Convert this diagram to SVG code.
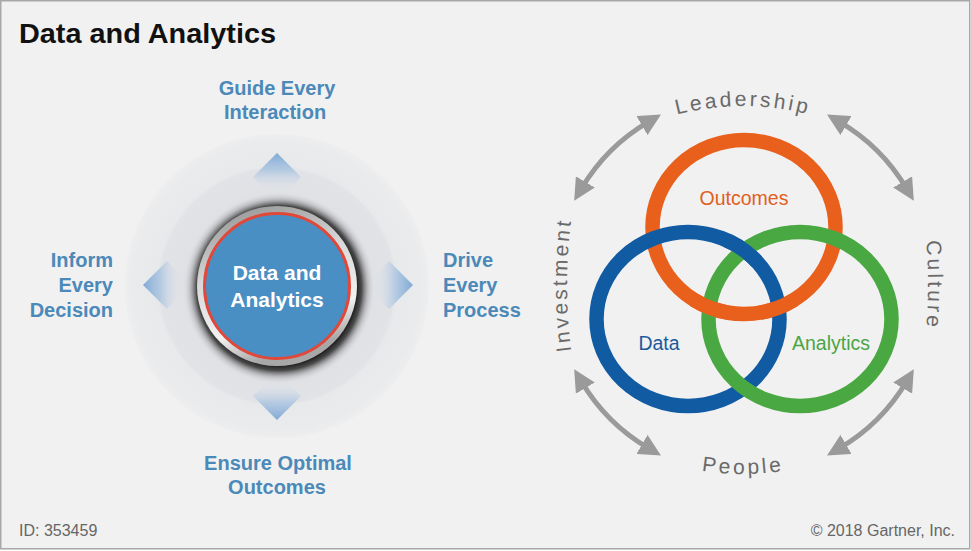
<svg xmlns="http://www.w3.org/2000/svg" width="971" height="551" viewBox="0 0 971 551">
  <style>
    .title { font-family: "Liberation Sans", Arial, sans-serif; font-weight: bold; font-size: 27px; fill: #111; }
    .lbl { font-family: "Liberation Sans", Arial, sans-serif; font-weight: bold; font-size: 20px; fill: #4b89b9; }
    .hub { font-family: "Liberation Sans", Arial, sans-serif; font-weight: bold; font-size: 21px; fill: #ffffff; }
    .ring { font-family: "Liberation Sans", Arial, sans-serif; font-size: 19.5px; }
    .arc { font-family: "Liberation Sans", Arial, sans-serif; font-size: 21px; fill: #6a6a6a; letter-spacing: 3px; }
    .foot { font-family: "Liberation Sans", Arial, sans-serif; font-size: 16px; fill: #666; }
    .arrow { fill: none; stroke: #9a9a9a; stroke-width: 5; marker-start: url(#head); marker-end: url(#head); }
    .band { fill: none; stroke-width: 14.5; }
  </style>
  <defs>
    <marker id="head" markerUnits="userSpaceOnUse" markerWidth="22" markerHeight="22" viewBox="0 0 22 22" refX="8" refY="11" orient="auto-start-reverse">
      <path d="M0,0 L22,11 L0,22 z" fill="#9a9a9a"/>
    </marker>
    <radialGradient id="halo" cx="0.5" cy="0.5" r="0.5">
      <stop offset="0" stop-color="#d8d9dc"/>
      <stop offset="0.6" stop-color="#e0e1e4"/>
      <stop offset="0.77" stop-color="#e2e3e6"/>
      <stop offset="0.79" stop-color="#e8e9eb"/>
      <stop offset="0.95" stop-color="#eaebec"/>
      <stop offset="1" stop-color="#eeeeef"/>
    </radialGradient>
    <radialGradient id="shadow" cx="0.5" cy="0.5" r="0.5">
      <stop offset="0.8" stop-color="#1a1a1a"/>
      <stop offset="0.86" stop-color="#3a3a3a" stop-opacity="0.9"/>
      <stop offset="0.93" stop-color="#9a9b9e" stop-opacity="0.45"/>
      <stop offset="1" stop-color="#dcdde0" stop-opacity="0"/>
    </radialGradient>
    <linearGradient id="silver" x1="0" y1="0" x2="0.3" y2="1">
      <stop offset="0" stop-color="#8c8c8c"/>
      <stop offset="0.45" stop-color="#d8d8d8"/>
      <stop offset="0.8" stop-color="#f2f2f2"/>
      <stop offset="1" stop-color="#a8a8a8"/>
    </linearGradient>
    <linearGradient id="dTop" x1="0" y1="0" x2="0" y2="1">
      <stop offset="0" stop-color="#80a9d5"/>
      <stop offset="0.35" stop-color="#a6c2e0" stop-opacity="0.8"/>
      <stop offset="0.7" stop-color="#d5dde8" stop-opacity="0.2"/>
      <stop offset="1" stop-color="#dfe2e6" stop-opacity="0"/>
    </linearGradient>
    <linearGradient id="dBot" x1="0" y1="1" x2="0" y2="0">
      <stop offset="0" stop-color="#80a9d5"/>
      <stop offset="0.35" stop-color="#a6c2e0" stop-opacity="0.8"/>
      <stop offset="0.7" stop-color="#d5dde8" stop-opacity="0.2"/>
      <stop offset="1" stop-color="#dfe2e6" stop-opacity="0"/>
    </linearGradient>
    <linearGradient id="dLeft" x1="0" y1="0" x2="1" y2="0">
      <stop offset="0" stop-color="#80a9d5"/>
      <stop offset="0.35" stop-color="#a6c2e0" stop-opacity="0.8"/>
      <stop offset="0.7" stop-color="#d5dde8" stop-opacity="0.2"/>
      <stop offset="1" stop-color="#dfe2e6" stop-opacity="0"/>
    </linearGradient>
    <linearGradient id="dRight" x1="1" y1="0" x2="0" y2="0">
      <stop offset="0" stop-color="#80a9d5"/>
      <stop offset="0.35" stop-color="#a6c2e0" stop-opacity="0.8"/>
      <stop offset="0.7" stop-color="#d5dde8" stop-opacity="0.2"/>
      <stop offset="1" stop-color="#dfe2e6" stop-opacity="0"/>
    </linearGradient>
    <clipPath id="cOB"><circle cx="778" cy="309" r="20"/></clipPath>
    <clipPath id="cOG"><circle cx="710" cy="309" r="20"/></clipPath>
    <clipPath id="cBG"><circle cx="744" cy="248" r="20"/></clipPath>
    <path id="pLead" d="M543,199.9 A260,260 0 0 1 943,199.9"/>
    <path id="pPeople" d="M543,380.1 A260,260 0 0 0 943,380.1"/>
    <path id="pInv" d="M590,435 A500,500 0 0 1 590,135"/>
    <path id="pCult" d="M905,135 A500,500 0 0 1 905,435"/>
  </defs>

  <rect x="0.75" y="0.75" width="969" height="548" fill="#f1f1f1" stroke="#a8a8a8" stroke-width="1.5"/>

  <text class="title" x="19" y="43" textLength="257" lengthAdjust="spacingAndGlyphs">Data and Analytics</text>

  <!-- Left hub diagram -->
  <g id="hub-halo">
    <circle cx="277" cy="286" r="152" fill="url(#halo)"/>
  </g>

  <g id="connectors-left">
    <polygon points="277,153 301,177 277,201 253,177" fill="url(#dTop)"/>
    <polygon points="277,420 301,396 277,372 253,396" fill="url(#dBot)"/>
    <polygon points="143,285 167,261 191,285 167,309" fill="url(#dLeft)"/>
    <polygon points="413,285 389,261 365,285 389,309" fill="url(#dRight)"/>
  </g>

  <g id="hub">
    <circle cx="279" cy="288" r="96" fill="url(#shadow)"/>
    <circle cx="277" cy="286" r="80" fill="url(#silver)"/>
    <circle cx="277" cy="286" r="72.5" fill="#4a8fc4" stroke="#e0483a" stroke-width="3"/>
    <text class="hub" x="277" y="280" text-anchor="middle">Data and</text>
    <text class="hub" x="277" y="307" text-anchor="middle">Analytics</text>
  </g>

  <g id="guide">
    <text class="lbl" x="277" y="95" text-anchor="middle">Guide Every</text>
    <text class="lbl" x="275" y="119" text-anchor="middle">Interaction</text>
  </g>
  <g id="inform">
    <text class="lbl" x="113" y="267" text-anchor="end">Inform</text>
    <text class="lbl" x="113" y="292" text-anchor="end">Every</text>
    <text class="lbl" x="113" y="317" text-anchor="end">Decision</text>
  </g>
  <g id="drive">
    <text class="lbl" x="443" y="267">Drive</text>
    <text class="lbl" x="443" y="292">Every</text>
    <text class="lbl" x="443" y="317">Process</text>
  </g>
  <g id="ensure">
    <text class="lbl" x="278" y="470" text-anchor="middle">Ensure Optimal</text>
    <text class="lbl" x="277" y="494" text-anchor="middle">Outcomes</text>
  </g>

  <!-- Right Venn diagram -->
  <g id="outcomes">
    <ellipse class="band" cx="744" cy="227" rx="91.5" ry="87" stroke="#e8601c"/>
    <text class="ring" x="744" y="205" text-anchor="middle" fill="#e0601e">Outcomes</text>
  </g>
  <g id="data">
    <ellipse class="band" cx="688" cy="319" rx="91.5" ry="87" stroke="#115ba3"/>
    <text class="ring" x="659" y="350" text-anchor="middle" fill="#1c5b9e">Data</text>
  </g>
  <g id="analytics">
    <ellipse class="band" cx="800" cy="319" rx="91.5" ry="87" stroke="#4aa843"/>
    <text class="ring" x="831" y="350" text-anchor="middle" fill="#4ca544">Analytics</text>
  </g>
  <g id="interlock">
    <ellipse class="band" cx="744" cy="227" rx="91.5" ry="87" stroke="#e8601c" clip-path="url(#cOB)"/>
    <ellipse class="band" cx="744" cy="227" rx="91.5" ry="87" stroke="#e8601c" clip-path="url(#cOG)"/>
    <ellipse class="band" cx="688" cy="319" rx="91.5" ry="87" stroke="#115ba3" clip-path="url(#cBG)"/>
  </g>

  <g id="connectors">
    <path class="arrow" d="M581.3,188.8 A189,189 0 0 1 648.9,121.6"/>
    <path class="arrow" d="M839.1,121.6 A189,189 0 0 1 906.7,188.8"/>
    <path class="arrow" d="M906.7,381.2 A189,189 0 0 1 839.1,448.4"/>
    <path class="arrow" d="M648.9,448.4 A189,189 0 0 1 581.3,381.2"/>
  </g>

  <g id="leadership">
    <text class="arc"><textPath href="#pLead" startOffset="50%" text-anchor="middle">Leadership</textPath></text>
  </g>
  <g id="culture">
    <text class="arc"><textPath href="#pCult" startOffset="50%" text-anchor="middle">Culture</textPath></text>
  </g>
  <g id="people">
    <text class="arc"><textPath href="#pPeople" startOffset="50%" text-anchor="middle">People</textPath></text>
  </g>
  <g id="investment">
    <text class="arc"><textPath href="#pInv" startOffset="50%" text-anchor="middle">Investment</textPath></text>
  </g>

  <text class="foot" x="19" y="536">ID: 353459</text>
  <text class="foot" x="955" y="536" text-anchor="end">© 2018 Gartner, Inc.</text>
</svg>
